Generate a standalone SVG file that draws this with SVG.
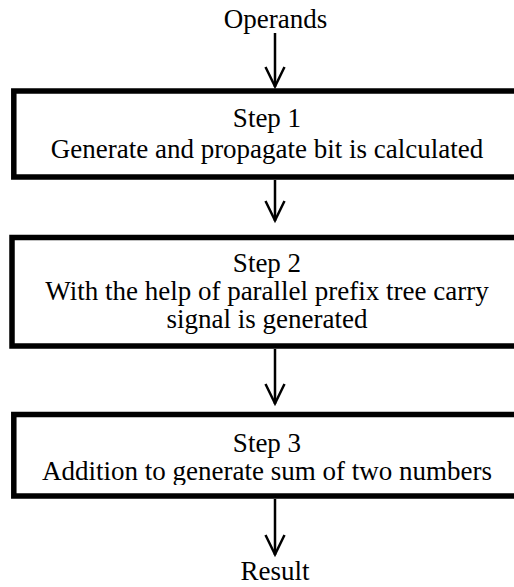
<svg xmlns="http://www.w3.org/2000/svg" width="514" height="587" viewBox="0 0 514 587">
<defs>
<clipPath id="c2"><rect x="0" y="240" width="514" height="95"/></clipPath>
<clipPath id="c3"><rect x="0" y="417" width="514" height="68"/></clipPath>
</defs>
<style>
text{font-family:'Liberation Serif','Times New Roman',serif;font-size:27px;fill:#000;text-anchor:middle}
.box{fill:#fff;stroke:#000;stroke-width:5.5}
.conn{stroke:#000;stroke-width:2.5;fill:none}
.head{stroke:#000;stroke-width:2.5;fill:none}
</style>
<rect width="514" height="587" fill="#fff"/>
<g id="connectors">
<path class="conn" d="M275 33V87"/><path class="head" d="M265.5 67L275 86.5L284.5 67"/>
<path class="conn" d="M275 180V221"/><path class="head" d="M265.5 201L275 220.5L284.5 201"/>
<path class="conn" d="M275 349V404"/><path class="head" d="M265.5 384L275 403.5L284.5 384"/>
<path class="conn" d="M275 499V555"/><path class="head" d="M265.5 535L275 554.5L284.5 535"/>
</g>
<g id="operands"><text x="275.5" y="28">Operands</text></g>
<g id="step1">
<rect class="box" x="13.8" y="91" width="510" height="86"/>
<text x="267" y="127">Step 1</text>
<text x="267" y="158">Generate and propagate bit is calculated</text>
</g>
<g id="step2">
<rect class="box" x="12" y="237.5" width="510" height="108.5"/>
<g clip-path="url(#c2)">
<text x="267" y="272">Step 2</text>
<text x="267" y="300">With the help of parallel prefix tree carry</text>
<text x="267" y="328">signal is generated</text>
</g>
</g>
<g id="step3">
<rect class="box" x="13.8" y="414.5" width="510" height="81.5"/>
<g clip-path="url(#c3)">
<text x="267" y="452">Step 3</text>
<text x="267" y="480">Addition to generate sum of two numbers</text>
</g>
</g>
<g id="result"><text x="275" y="580">Result</text></g>
</svg>
